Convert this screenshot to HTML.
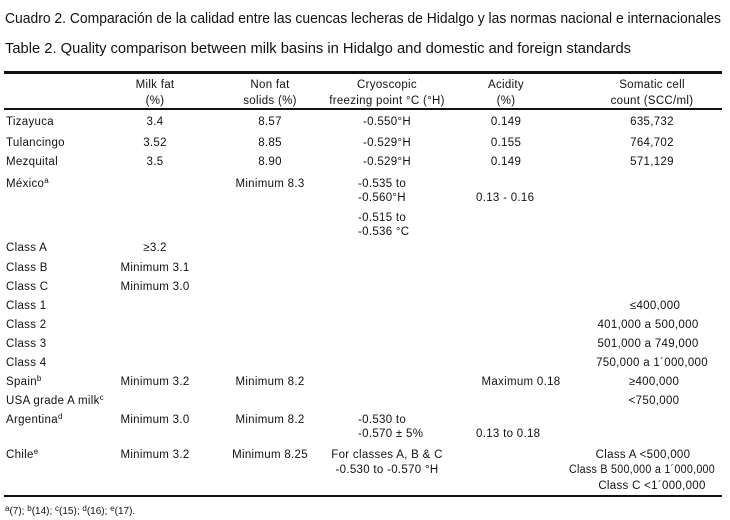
<!DOCTYPE html>
<html><head><meta charset="utf-8"><style>
html,body{margin:0;padding:0;background:#fff;}
svg{display:block;font-family:"Liberation Sans",Arial,sans-serif;fill:#111;}
.t{font-size:11.5px;letter-spacing:0.3px;}
.c{text-anchor:middle;}
sup,.s{font-size:8px;}
</style></head><body>
<svg width="730" height="520" viewBox="0 0 730 520">
<text x="5" y="23" font-size="15" textLength="716" lengthAdjust="spacingAndGlyphs">Cuadro 2. Comparación de la calidad entre las cuencas lecheras de Hidalgo y las normas nacional e internacionales</text>
<text x="5" y="53" font-size="15" textLength="626" lengthAdjust="spacingAndGlyphs">Table 2. Quality comparison between milk basins in Hidalgo and domestic and foreign standards</text>
<rect x="4" y="71" width="718" height="3"/>
<rect x="4" y="108" width="718" height="2"/>
<rect x="4" y="495" width="718" height="2"/>
<g class="t c">
<text x="155" y="88">Milk fat</text><text x="155" y="104">(%)</text>
<text x="270" y="88">Non fat</text><text x="270" y="104">solids (%)</text>
<text x="387" y="88">Cryoscopic</text><text x="387" y="104">freezing point °C (°H)</text>
<text x="506" y="88">Acidity</text><text x="506" y="104">(%)</text>
<text x="652" y="88">Somatic cell</text><text x="652" y="104">count (SCC/ml)</text>
</g>
<g class="t">
<text x="6" y="125">Tizayuca</text>
<text x="6" y="146">Tulancingo</text>
<text x="6" y="165">Mezquital</text>
<text x="6" y="187">México<tspan class="s" dy="-4">a</tspan></text>
<text x="6" y="251">Class A</text>
<text x="6" y="271">Class B</text>
<text x="6" y="290">Class C</text>
<text x="6" y="309">Class 1</text>
<text x="6" y="328">Class 2</text>
<text x="6" y="347">Class 3</text>
<text x="6" y="366">Class 4</text>
<text x="6" y="385">Spain<tspan class="s" dy="-4">b</tspan></text>
<text x="6" y="404">USA grade A milk<tspan class="s" dy="-4">c</tspan></text>
<text x="6" y="423">Argentina<tspan class="s" dy="-4">d</tspan></text>
<text x="6" y="458">Chile<tspan class="s" dy="-4">e</tspan></text>
</g>
<g class="t c">
<text x="155" y="125">3.4</text><text x="270" y="125">8.57</text><text x="387" y="125">-0.550°H</text><text x="506" y="125">0.149</text><text x="652" y="125">635,732</text>
<text x="155" y="146">3.52</text><text x="270" y="146">8.85</text><text x="387" y="146">-0.529°H</text><text x="506" y="146">0.155</text><text x="652" y="146">764,702</text>
<text x="155" y="165">3.5</text><text x="270" y="165">8.90</text><text x="387" y="165">-0.529°H</text><text x="506" y="165">0.149</text><text x="652" y="165">571,129</text>
<text x="270" y="187">Minimum 8.3</text>
<text x="155" y="251">≥3.2</text>
<text x="155" y="271">Minimum 3.1</text>
<text x="155" y="290">Minimum 3.0</text>
<text x="655" y="309">≤400,000</text>
<text x="648" y="328">401,000 a 500,000</text>
<text x="648" y="347">501,000 a 749,000</text>
<text x="652" y="366">750,000 a 1´000,000</text>
<text x="155" y="385">Minimum 3.2</text><text x="270" y="385">Minimum 8.2</text><text x="521" y="385">Maximum 0.18</text><text x="654" y="385">≥400,000</text>
<text x="654" y="404">&lt;750,000</text>
<text x="155" y="423">Minimum 3.0</text><text x="270" y="423">Minimum 8.2</text>
<text x="155" y="458">Minimum 3.2</text><text x="270" y="458">Minimum 8.25</text>
<text x="387" y="458">For classes A, B &amp; C</text><text x="387" y="473">-0.530 to -0.570 °H</text>
<text x="643" y="458">Class A &lt;500,000</text><text x="642" y="473" textLength="146" lengthAdjust="spacingAndGlyphs">Class B 500,000 a 1´000,000</text><text x="652" y="489">Class C &lt;1´000,000</text>
</g>
<g class="t">
<text x="358" y="187">-0.535 to</text><text x="358" y="201">-0.560°H</text>
<text x="476" y="201">0.13 - 0.16</text>
<text x="358" y="221">-0.515 to</text><text x="358" y="235">-0.536 °C</text>
<text x="358" y="423">-0.530  to</text><text x="358" y="437">-0.570 ± 5%</text>
<text x="476" y="437">0.13 to 0.18</text>
</g>
<text x="5" y="514" font-size="10"><tspan class="s" dy="-3">a</tspan><tspan dy="3">(7); </tspan><tspan class="s" dy="-3">b</tspan><tspan dy="3">(14); </tspan><tspan class="s" dy="-3">c</tspan><tspan dy="3">(15); </tspan><tspan class="s" dy="-3">d</tspan><tspan dy="3">(16); </tspan><tspan class="s" dy="-3">e</tspan><tspan dy="3">(17).</tspan></text>
</svg>
</body></html>
